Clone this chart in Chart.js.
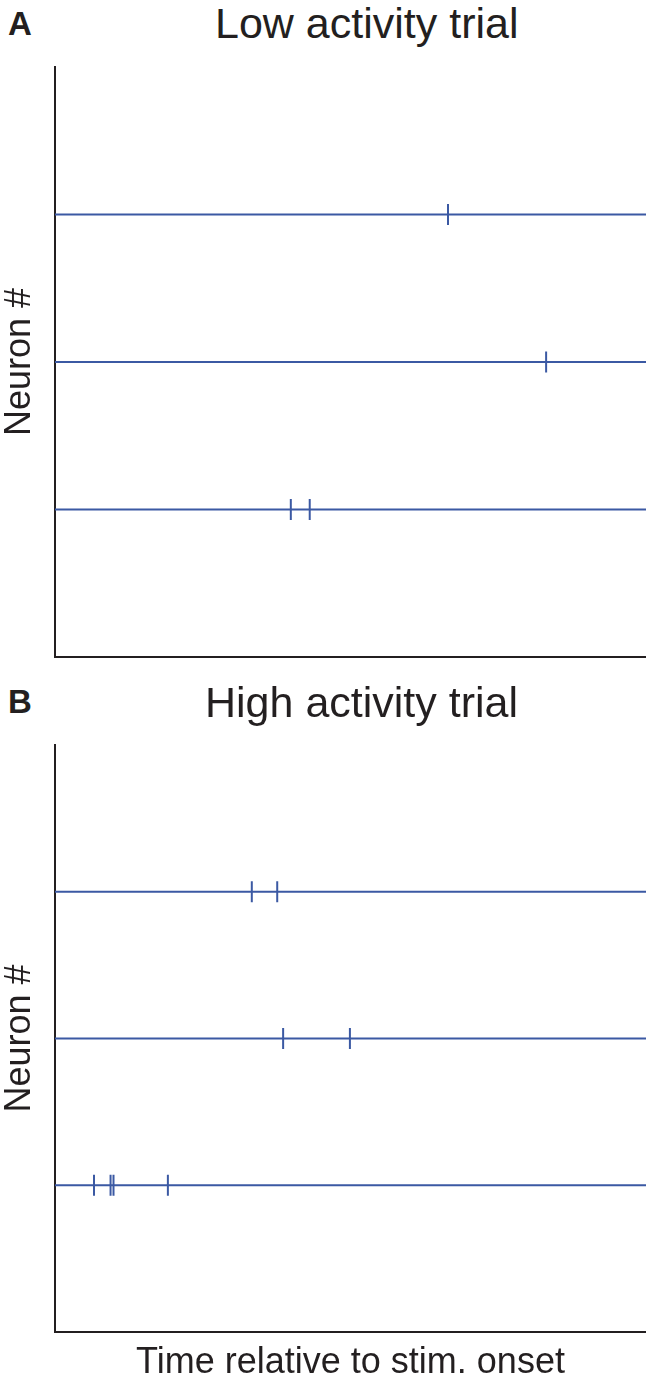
<!DOCTYPE html>
<html>
<head>
<meta charset="utf-8">
<script src="https://cdn.jsdelivr.net/npm/chart.js@4.4.1/dist/chart.umd.min.js"></script>
<style>
  html, body { margin: 0; padding: 0; background: #fff; }
  #page { position: relative; width: 646px; height: 1385px; overflow: hidden;
          font-family: 'Liberation Sans', Arial, Helvetica, sans-serif; color: #231f20; }
  .panel { position: absolute; left: 0; width: 646px; }
  .letter { position: absolute; left: 8px; font-weight: bold; font-size: 33px; line-height: 1; }
  .title { position: absolute; font-size: 43px; line-height: 1; white-space: nowrap; }
</style>
</head>
<body>
<div id="page">
  <div class="letter" style="top:7px">A</div>
  <div class="title" style="top:2px;left:215px">Low activity trial</div>
  <div class="panel" style="top:0;height:680px"><canvas id="chart-low" width="646" height="680"></canvas></div>

  <div class="letter" style="top:685px">B</div>
  <div class="title" style="top:681px;left:205px">High activity trial</div>
  <div class="panel" style="top:680px;height:705px"><canvas id="chart-high" width="646" height="705"></canvas></div>
</div>

<script>
// ── Data ──────────────────────────────────────────────────────────────────
const neuronRows = [3, 2, 1];          // row positions, top to bottom
const rowMin = 0, rowMax = 4;
const timeMin = 0, timeMax = 1000;     // arbitrary time units

// spike times per neuron row
const lowSpikes  = [[665], [831], [399, 431]];
const highSpikes = [[333, 376], [386, 499], [66, 94, 99, 191]];

const BLUE = '#3b59a3';
const INK = '#231f20';

Chart.defaults.font.family = "'Liberation Sans', Arial, Helvetica, sans-serif";
Chart.defaults.color = INK;

function rasterDatasets(spikes) {
  const sets = [];
  neuronRows.forEach((row, i) => {
    // baseline for the neuron
    sets.push({
      data: [{ x: timeMin, y: row }, { x: timeMax, y: row }],
      showLine: true,
      borderColor: BLUE,
      borderWidth: 2,
      pointRadius: 0,
    });
    // spikes as vertical ticks
    sets.push({
      data: spikes[i].map(t => ({ x: t, y: row })),
      showLine: false,
      pointStyle: 'line',
      pointRotation: 90,
      pointRadius: 10.5,
      pointBorderWidth: 2,
      pointBorderColor: BLUE,
      pointBackgroundColor: BLUE,
    });
  });
  return sets;
}

function buildRaster(canvasId, spikes, opts) {
  new Chart(document.getElementById(canvasId).getContext('2d'), {
    type: 'scatter',
    data: { datasets: rasterDatasets(spikes) },
    options: {
      responsive: false,
      animation: false,
      layout: { padding: opts.padding, autoPadding: false },
      plugins: { legend: { display: false }, tooltip: { enabled: false } },
      scales: {
        x: {
          type: 'linear',
          min: timeMin, max: timeMax,
          ticks: { display: false },
          grid: { display: false, drawTicks: false },
          border: { display: true, color: INK, width: 2 },
          title: {
            display: !!opts.xTitle,
            text: opts.xTitle || '',
            color: INK,
            font: { size: 36, lineHeight: 1 },
            padding: { top: 0, bottom: 4 },
          },
          afterFit(axis) { axis.height = opts.xHeight; },
        },
        y: {
          min: rowMin, max: rowMax,
          ticks: { display: false },
          grid: { display: false, drawTicks: false },
          border: { display: true, color: INK, width: 2 },
          title: {
            display: true,
            text: 'Neuron #',
            color: INK,
            font: { size: 36, lineHeight: 1 },
            padding: { top: 2, bottom: 0 },
          },
          afterFit(axis) { axis.width = 55; },
        },
      },
    },
  });
}

buildRaster('chart-low', lowSpikes, {
  padding: { top: 67, bottom: 23, left: 0, right: 0 },
  xHeight: 0,
});

buildRaster('chart-high', highSpikes, {
  padding: { top: 65, bottom: 0, left: 0, right: 0 },
  xHeight: 53,
  xTitle: 'Time relative to stim. onset',
});
</script>
</body>
</html>
